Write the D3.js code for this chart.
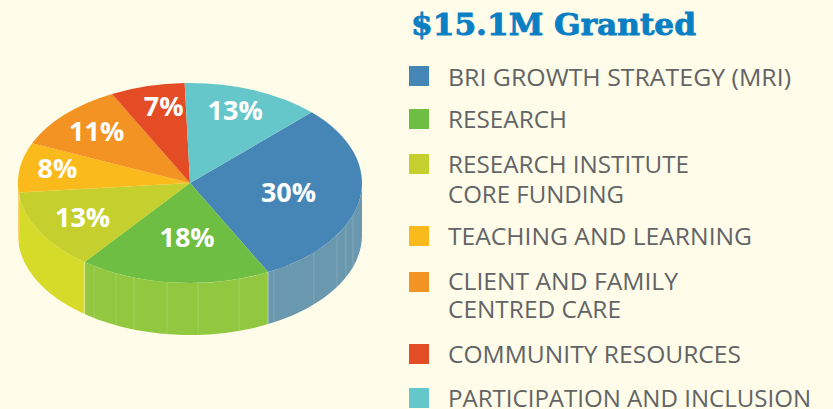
<!DOCTYPE html>
<html><head><meta charset="utf-8">
<script src="https://cdn.jsdelivr.net/npm/d3@7"></script>
<style>html,body{margin:0;padding:0;background:#fffdea}svg{display:block}</style>
</head><body><div id="c"></div>
<script>
const categories = [["BRI GROWTH STRATEGY (MRI)"],["RESEARCH"],["RESEARCH INSTITUTE","CORE FUNDING"],["TEACHING AND LEARNING"],["CLIENT AND FAMILY","CENTRED CARE"],["COMMUNITY RESOURCES"],["PARTICIPATION AND INCLUSION"]];
const values = [30,18,13,8,11,7,13];
const topColors = ["#4686b6","#6fbe44","#c5d02e","#fbba1c","#f39323","#e44c26","#66c7cb"];
const wallColors = ["#6a98ae","#92c83f","#d6da28","#fbba1c","#f39323","#e44c26","#66c7cb"];
const seamAngles = [108.7,115,121.3,133.9,150.8,163.4,177.3,187.7,199,205.5,213.9];

const W=833,H=409;
const svg=d3.select("#c").append("svg").attr("width",W).attr("height",H);
svg.append("rect").attr("width",W).attr("height",H).attr("fill","#fffdea");

const cx=190,cy=183,rx=172,ry=100,depth=52;
const sx=d3.scaleLinear().domain([-1,1]).range([cx-rx,cx+rx]);
const sy=d3.scaleLinear().domain([-1,1]).range([cy-ry,cy+ry]);
const rad=d=>d*Math.PI/180;
const px=a=>sx(Math.sin(a)), py=a=>sy(-Math.cos(a));
const pie=d3.pie().sort(null).startAngle(rad(45)).endAngle(rad(405));
const arcs=pie(values);

const wallLine=d3.line();
const chart=svg.append("g");
arcs.forEach((d,i)=>{
  const a0=Math.max(d.startAngle,rad(90)),a1=Math.min(d.endAngle,rad(270));
  if(a1<=a0) return;
  const as=d3.range(0,41).map(k=>a0+(a1-a0)*k/40);
  const pts=as.map(a=>[px(a),py(a)]).concat(as.slice().reverse().map(a=>[px(a),py(a)+depth]));
  chart.append("path").attr("d",wallLine(pts)+"Z").attr("fill",wallColors[i]);
  chart.append("line").attr("x1",px(a0)).attr("x2",px(a0)).attr("y1",py(a0)).attr("y2",py(a0)+depth)
    .attr("stroke","#fff").attr("stroke-opacity",i==0?0:.45).attr("stroke-width",.8);
});
seamAngles.forEach(s=>{
  const a=rad(s);
  chart.append("line").attr("x1",px(a)).attr("x2",px(a)).attr("y1",py(a)).attr("y2",py(a)+depth)
    .attr("stroke","#fff").attr("stroke-opacity",.2).attr("stroke-width",.8);
});

const arc=d3.arc().innerRadius(0).outerRadius(1);
const topFace=chart.append("g").attr("transform",`translate(${cx},${cy}) scale(${rx},${ry})`);
topFace.selectAll("path").data(arcs).join("path").attr("d",arc).attr("fill",(d,i)=>topColors[i]);

const nudges=[[0,1],[6,0],[-14,5],[0,-2],[-3,-2],[7,0],[-1,-4]];
const labelRadius=[.58,.55,.62,.78,.72,.78,.73];
svg.append("g").selectAll("text").data(arcs).join("text")
  .attr("x",(d,i)=>sx(labelRadius[i]*Math.sin((d.startAngle+d.endAngle)/2))+nudges[i][0])
  .attr("y",(d,i)=>sy(-labelRadius[i]*Math.cos((d.startAngle+d.endAngle)/2))+nudges[i][1]+9)
  .attr("text-anchor","middle").attr("fill","#fff")
  .style("font","700 27px 'Open Sans'")
  .text(d=>d.value+"%");

svg.append("text").attr("x",411).attr("y",35).attr("fill","#0a7fc4").attr("stroke","#0a7fc4").attr("stroke-width",.9)
  .attr("textLength",285).attr("lengthAdjust","spacingAndGlyphs")
  .style("font","bold 30px 'DejaVu Serif'").text("$15.1M Granted");

const swatchY=[66,109,154,226,272,344,388];
const lineY=[[86],[128],[173,203],[245],[290,318],[363],[407]];
const lineW=[[343],[119],[241,176],[304],[230,173],[293],[363]];
const lg=svg.append("g");
categories.forEach((c,i)=>{
  lg.append("rect").attr("x",409).attr("y",swatchY[i]).attr("width",20).attr("height",20).attr("fill",topColors[i]);
  c.forEach((t,j)=>lg.append("text").attr("x",448).attr("y",lineY[i][j]).attr("fill","#636466")
    .attr("textLength",lineW[i][j]).attr("lengthAdjust","spacingAndGlyphs")
    .style("font","400 24px 'Open Sans'").text(t));
});
</script></body></html>
